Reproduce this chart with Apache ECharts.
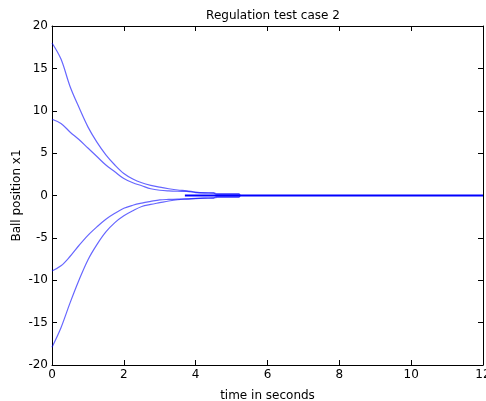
<!DOCTYPE html>
<html><head><meta charset="utf-8">
<script src="https://cdn.jsdelivr.net/npm/echarts@6/dist/echarts.min.js"></script>
<style>html,body{margin:0;padding:0;background:#fff}#c{width:486px;height:401px}</style>
</head><body><div id="c"></div>
<script>
var time  = [0,0.25,0.5,0.75,1,1.25,1.5,1.75,2,2.25,2.5,2.75,3,3.25,3.5,3.75,4,4.25,4.5,4.6,5.2,5.25,12];
var caseA = [18,16.1,12.9,10.4,8.1,6.3,4.8,3.6,2.6,1.95,1.5,1.2,0.98,0.8,0.65,0.55,0.4,0.32,0.3,0.22,0.22,0,0];
var caseB = [9,8.5,7.5,6.6,5.6,4.6,3.6,2.8,2.0,1.5,1.15,0.8,0.62,0.54,0.5,0.48,0.35,0.3,0.28,0.1,0.1,0,0];
var caseC = [-8.9,-8.3,-7.2,-5.9,-4.7,-3.7,-2.8,-2.1,-1.5,-1.15,-0.9,-0.7,-0.52,-0.46,-0.42,-0.4,-0.33,-0.3,-0.28,-0.1,-0.1,0,0];
var caseD = [-17.9,-15.6,-12.7,-10.0,-7.6,-5.8,-4.3,-3.2,-2.4,-1.8,-1.3,-1.05,-0.85,-0.65,-0.5,-0.42,-0.36,-0.32,-0.3,-0.22,-0.22,0,0];
var zeroTime = [3.7, 12];
var zeroVals = [0, 0];
var xTicks = [0,2,4,6,8,10,12];
var yTicks = [-20,-15,-10,-5,0,5,10,15,20];

function pairs(ts, ys){ return ts.map(function(t,i){ return [t, ys[i]]; }); }
var font = 'DejaVu Sans, sans-serif';
var chart = echarts.init(document.getElementById('c'), null, {renderer:'canvas'});
function line(ys){
  return {type:'line', data:pairs(time, ys), showSymbol:false, smooth:0.35, silent:true,
    lineStyle:{color:'rgba(0,0,255,0.6)', width:1.2}, animation:false, z:2};
}
chart.setOption({
  animation:false,
  title:{text:'Regulation test case 2', left:268, textAlign:'center', top:5,
    textStyle:{fontFamily:font, fontSize:12, fontWeight:'normal', color:'#000'}},
  grid:{left:52, right:3, top:26, bottom:36, containLabel:false, outerBoundsMode:'none'},
  xAxis:[{type:'value', min:xTicks[0], max:xTicks[xTicks.length-1], interval:2,
    name:'time in seconds', nameLocation:'middle', nameGap:25, nameMoveOverlap:false,
    nameTextStyle:{fontFamily:font, fontSize:12, color:'#000'},
    axisLine:{show:true, onZero:false, lineStyle:{color:'#000', width:1}},
    axisTick:{show:true, inside:true, length:5, lineStyle:{color:'#000'}},
    axisLabel:{fontFamily:font, fontSize:12, color:'#000', margin:4},
    splitLine:{show:false}},
   {type:'value', position:'top', min:0, max:12, interval:2,
    axisLine:{show:true, onZero:false, lineStyle:{color:'#000', width:1}},
    axisTick:{show:true, inside:true, length:5, lineStyle:{color:'#000'}},
    axisLabel:{show:false}, splitLine:{show:false}}],
  yAxis:[{type:'value', min:yTicks[0], max:yTicks[yTicks.length-1], interval:5,
    name:'Ball position x1', nameLocation:'middle', nameGap:29, nameMoveOverlap:false,
    nameTextStyle:{fontFamily:font, fontSize:12, color:'#000'},
    axisLine:{show:true, onZero:false, lineStyle:{color:'#000', width:1}},
    axisTick:{show:true, inside:true, length:5, lineStyle:{color:'#000'}},
    axisLabel:{fontFamily:font, fontSize:12, color:'#000', margin:4},
    splitLine:{show:false}},
   {type:'value', position:'right', min:-20, max:20, interval:5,
    axisLine:{show:true, onZero:false, lineStyle:{color:'#000', width:1}},
    axisTick:{show:true, inside:true, length:5, lineStyle:{color:'#000'}},
    axisLabel:{show:false}, splitLine:{show:false}}],
  series:[line(caseA), line(caseB), line(caseC), line(caseD),
    {type:'line', data:pairs(zeroTime, zeroVals), showSymbol:false, silent:true,
     lineStyle:{color:'#0000ff', width:2}, z:3}]
});
</script></body></html>
